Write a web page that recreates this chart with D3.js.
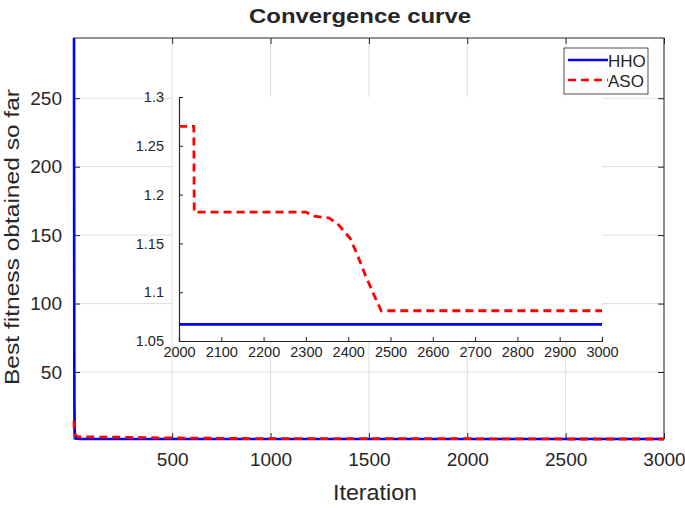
<!DOCTYPE html>
<html><head><meta charset="utf-8">
<script src="https://cdn.jsdelivr.net/npm/d3@7"></script>
<style>body{margin:0;background:#fff}svg{display:block}text{font-family:"Liberation Sans",Arial,sans-serif;fill:#262626}</style>
</head><body><svg id="c" width="685" height="508"></svg>
<script>
// ---- data ----
const hhoIter = [1, 2, 3, 5, 10, 30, 100, 3000];
const hhoVal  = [294, 125, 30, 5, 1.5, 1.1, 1.0671, 1.0671];
const asoIter = [1, 2, 5, 10, 20, 50, 200, 400, 600, 900, 1200, 2000, 2035, 2036, 2300, 2320, 2355, 2375, 2395, 2405, 2420, 2440, 2460, 2478, 3000];
const asoVal  = [14.5, 8, 5, 3.5, 2.8, 2.6, 2.4, 2.0, 1.7, 1.4, 1.3, 1.27, 1.27, 1.182, 1.182, 1.178, 1.176, 1.170, 1.160, 1.155, 1.140, 1.118, 1.098, 1.081, 1.081];
const xTicks = [500, 1000, 1500, 2000, 2500, 3000];
const yTicks = [50, 100, 150, 200, 250];
const insetXTicks = [2000, 2100, 2200, 2300, 2400, 2500, 2600, 2700, 2800, 2900, 3000];
const insetYTicks = [1.05, 1.1, 1.15, 1.2, 1.25, 1.3];
const seriesNames = ["HHO", "ASO"];
const seriesColors = ["#0000ff", "#ff0000"];

const hho = hhoIter.map((d,i)=>({x:d,y:hhoVal[i]}));
const aso = asoIter.map((d,i)=>({x:d,y:asoVal[i]}));

const svg = d3.select("#c");
const axisCol = "#262626", gridCol = "#dfdfdf";
const L=74, R=664, T=38, B=439;
const x = d3.scaleLinear().domain([1,3000]).range([L,R]);
const y = d3.scaleLinear().domain([1.0671,294]).range([B,T]);

// grid
const g = svg.append("g");
g.selectAll(".gx").data(xTicks).join("line").attr("x1",d=>x(d)).attr("x2",d=>x(d)).attr("y1",T).attr("y2",B).attr("stroke",gridCol);
g.selectAll(".gy").data(yTicks).join("line").attr("y1",d=>y(d)).attr("y2",d=>y(d)).attr("x1",L).attr("x2",R).attr("stroke",gridCol);

// axes (inward ticks on four sides)
const tk=6;
svg.append("g").attr("transform",`translate(0,${B})`).call(d3.axisBottom(x).tickValues(xTicks).tickSize(-tk).tickPadding(14).tickFormat(d3.format("d")))
  .call(a=>{a.select(".domain").remove();a.selectAll("line").attr("stroke",axisCol);a.selectAll("text").attr("font-size",19).attr("fill",axisCol).attr("font-family","Liberation Sans, Arial");});
svg.append("g").attr("transform",`translate(0,${T})`).call(d3.axisTop(x).tickValues(xTicks).tickSize(-tk).tickFormat(""))
  .call(a=>{a.select(".domain").remove();a.selectAll("line").attr("stroke",axisCol);});
svg.append("g").attr("transform",`translate(${L},0)`).call(d3.axisLeft(y).tickValues(yTicks).tickSize(-tk).tickPadding(12).tickFormat(d3.format("d")))
  .call(a=>{a.select(".domain").remove();a.selectAll("line").attr("stroke",axisCol);a.selectAll("text").attr("font-size",19).attr("fill",axisCol).attr("font-family","Liberation Sans, Arial");});
svg.append("g").attr("transform",`translate(${R},0)`).call(d3.axisRight(y).tickValues(yTicks).tickSize(-tk).tickFormat(""))
  .call(a=>{a.select(".domain").remove();a.selectAll("line").attr("stroke",axisCol);});
svg.append("rect").attr("x",L).attr("y",T).attr("width",R-L).attr("height",B-T).attr("fill","none").attr("stroke",axisCol).attr("stroke-width",1);

// main lines
const line = d3.line().x(d=>x(d.x)).y(d=>y(d.y));
svg.append("path").datum(hho).attr("d",line).attr("fill","none").attr("stroke",seriesColors[0]).attr("stroke-width",2.6);
svg.append("path").datum(aso).attr("d",line).attr("fill","none").attr("stroke",seriesColors[1]).attr("stroke-width",2.8).attr("stroke-dasharray","8,5");

// labels
svg.append("text").attr("x",360).attr("y",23).attr("text-anchor","middle").attr("font-weight","bold").attr("font-size",21).attr("textLength",222).attr("lengthAdjust","spacingAndGlyphs").text("Convergence curve");
svg.append("text").attr("x",375).attr("y",500).attr("text-anchor","middle").attr("font-size",22).attr("textLength",84).attr("lengthAdjust","spacingAndGlyphs").text("Iteration");
svg.append("text").attr("transform","translate(19,237) rotate(-90)").attr("text-anchor","middle").attr("font-size",21).attr("textLength",296).attr("lengthAdjust","spacingAndGlyphs").text("Best fitness obtained so far");

// ---- inset ----
const iL=179, iR=602, iT=97, iB=341;
const xi = d3.scaleLinear().domain([2000,3000]).range([iL,iR]);
const yi = d3.scaleLinear().domain([1.05,1.3]).range([iB,iT]);
svg.append("rect").attr("x",iL-6).attr("y",iT).attr("width",iR-iL+6).attr("height",iB-iT).attr("fill","#fff");
const ik=4;
svg.append("g").attr("transform",`translate(0,${iB})`).call(d3.axisBottom(xi).tickValues(insetXTicks).tickSize(-ik).tickPadding(6).tickFormat(d3.format("d")))
  .call(a=>{a.select(".domain").attr("stroke",axisCol);a.selectAll("line").attr("stroke",axisCol);a.selectAll("text").attr("font-size",14.5).attr("fill",axisCol).attr("font-family","Liberation Sans, Arial");});
svg.append("g").attr("transform",`translate(${iL},0)`).call(d3.axisLeft(yi).tickValues(insetYTicks).tickSize(-ik).tickPadding(15).tickFormat(d3.format("")))
  .call(a=>{a.select(".domain").attr("stroke",axisCol);a.selectAll("line").attr("stroke",axisCol);a.selectAll("text").attr("font-size",14.5).attr("fill",axisCol).attr("font-family","Liberation Sans, Arial");});
svg.selectAll("path.domain").attr("stroke-width",1.2);
const linei = d3.line().x(d=>xi(d.x)).y(d=>yi(d.y));
const hhoI = [{x:2000,y:hho[hho.length-2].y}].concat(hho.filter(d=>d.x>2000));
svg.append("path").datum(hhoI).attr("d",linei).attr("fill","none").attr("stroke",seriesColors[0]).attr("stroke-width",2.8);
svg.append("path").datum(aso.filter(d=>d.x>=2000)).attr("d",linei).attr("fill","none").attr("stroke",seriesColors[1]).attr("stroke-width",2.8).attr("stroke-dasharray","8,5");

// ---- legend ----
const lg = svg.append("g");
lg.append("rect").attr("x",564).attr("y",48).attr("width",84).attr("height",46).attr("fill","#fff").attr("stroke",axisCol).attr("stroke-width",0.8);
seriesNames.forEach((n,i)=>{
  const yy = 60 + i*20;
  lg.append("line").attr("x1",568).attr("x2",608).attr("y1",yy).attr("y2",yy).attr("stroke",seriesColors[i]).attr("stroke-width",2.6).attr("stroke-dasharray",i?"8,5":null);
  lg.append("text").attr("x",608).attr("y",yy+6.5).attr("font-size",17).text(n);
});
</script></body></html>
